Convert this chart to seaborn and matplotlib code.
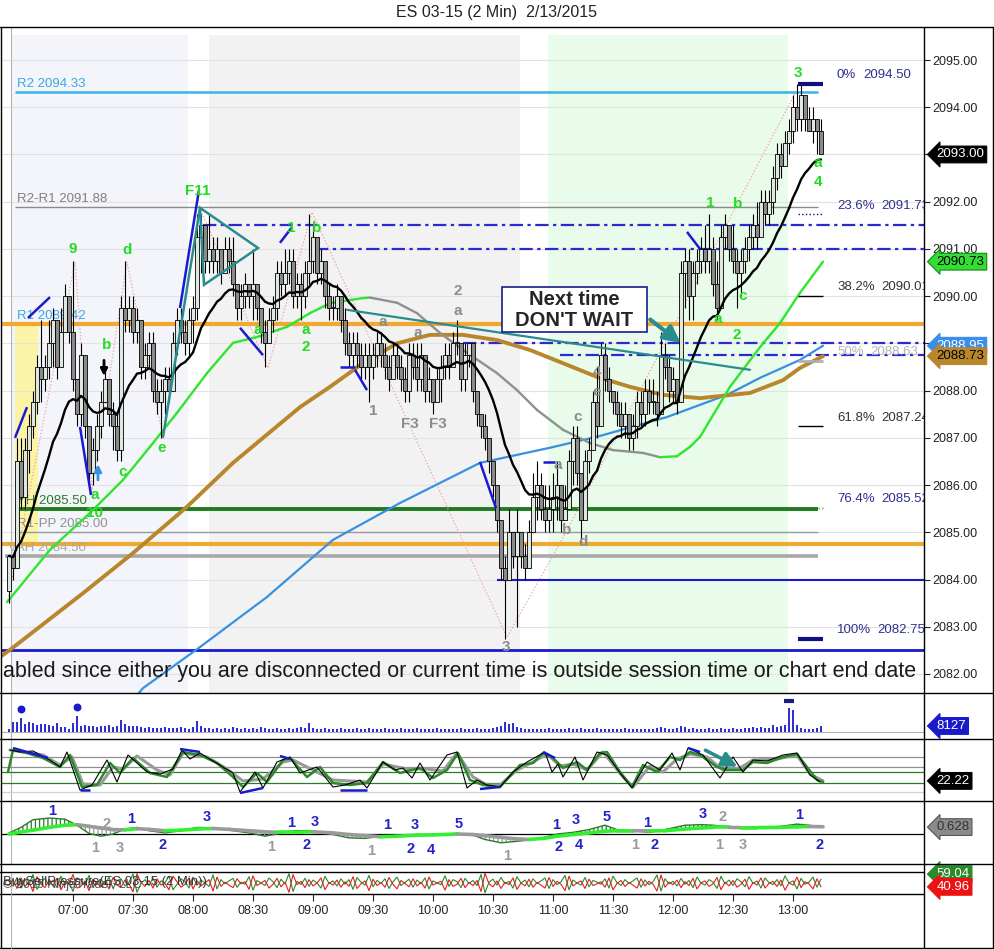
import numpy as np
import pandas as pd
import matplotlib
matplotlib.use('Agg')
import matplotlib.pyplot as plt
import seaborn as sns
from matplotlib.lines import Line2D
from matplotlib.collections import LineCollection
from matplotlib.patches import Rectangle, Polygon
from matplotlib.transforms import blended_transform_factory

sns.set_style('white')
plt.rcParams['font.family'] = ['Liberation Sans', 'DejaVu Sans']
plt.rcParams['hatch.linewidth'] = 0.9

W, H = 995, 950

# ---------------- data ----------------
# time axis = minutes after 07:00, one bar every 2 minutes, first bar 06:28
first_open = 2083.75
closes = [
    2084.50, 2084.25, 2086.50, 2085.75, 2086.75, 2087.25, 2087.75, 2088.50, 2088.25, 2088.50,
    2089.00, 2089.50, 2088.50, 2089.25, 2090.00, 2089.25, 2088.25, 2087.50, 2088.75, 2087.25,
    2086.25, 2086.75, 2087.25, 2087.75, 2088.25, 2087.50, 2087.25, 2086.75, 2089.75, 2089.50,
    2089.75, 2089.25, 2089.50, 2088.50, 2088.75, 2089.00, 2088.00, 2087.75, 2088.00, 2088.25,
    2088.00, 2089.00, 2089.50, 2089.25, 2089.00, 2089.50, 2089.75, 2091.25, 2091.50, 2090.75,
    2091.00, 2090.75, 2091.00, 2090.50, 2091.00, 2090.75, 2090.25, 2089.75, 2090.00, 2090.25,
    2090.00, 2090.25, 2089.75, 2089.25, 2089.00, 2089.50, 2089.75, 2090.50, 2090.25, 2090.50,
    2090.75, 2090.00, 2090.25, 2090.00, 2090.50, 2090.75, 2091.25, 2090.50, 2090.75, 2090.00,
    2089.75, 2089.75, 2090.00, 2089.50, 2089.00, 2088.75, 2089.00, 2088.75, 2088.50, 2088.75,
    2088.50, 2088.75, 2089.00, 2088.75, 2088.50, 2088.25, 2088.75, 2088.50, 2088.25, 2088.00,
    2088.75, 2088.50, 2088.25, 2088.75, 2088.00, 2088.25, 2087.75, 2088.25, 2088.50, 2088.75,
    2088.50, 2089.00, 2089.00, 2088.25, 2088.75, 2089.00, 2088.00, 2087.50, 2087.25, 2087.00,
    2086.50, 2086.00, 2085.25, 2084.25, 2084.00, 2085.00, 2084.50, 2085.00, 2084.50, 2084.25,
    2085.00, 2085.75, 2086.00, 2085.50, 2085.25, 2085.50, 2085.75, 2086.00, 2085.25, 2085.50,
    2086.50, 2087.00, 2086.25, 2085.25, 2086.50, 2086.75, 2087.75, 2087.25, 2088.75, 2088.25,
    2088.00, 2087.75, 2087.50, 2087.25, 2087.50, 2087.00, 2087.25, 2087.75, 2087.50, 2088.00,
    2087.75, 2087.75, 2087.50, 2088.75, 2088.50, 2088.00, 2088.25, 2087.75, 2090.50, 2090.75,
    2090.00, 2090.50, 2090.75, 2091.00, 2090.75, 2091.00, 2090.25, 2089.75, 2091.25, 2091.50,
    2091.00, 2090.75, 2090.50, 2090.75, 2091.00, 2091.25, 2091.50, 2091.25, 2092.00, 2091.75,
    2092.00, 2092.50, 2093.00, 2092.75, 2093.25, 2093.50, 2094.00, 2093.75, 2094.25, 2093.75,
    2093.50, 2093.75, 2093.50, 2093.00]
highs = [
    2084.50, 2084.50, 2087.00, 2087.00, 2087.00, 2087.50, 2088.00, 2088.75, 2089.50, 2088.75,
    2089.50, 2089.75, 2089.50, 2089.75, 2090.25, 2090.00, 2090.75, 2088.25, 2089.00, 2088.75,
    2087.25, 2087.00, 2087.50, 2088.00, 2088.50, 2088.25, 2087.75, 2087.50, 2090.00, 2090.75,
    2090.00, 2090.00, 2089.75, 2089.25, 2089.00, 2089.25, 2089.25, 2088.25, 2088.25, 2088.50,
    2088.50, 2089.25, 2089.75, 2089.75, 2089.50, 2089.75, 2090.00, 2091.75, 2091.75, 2091.50,
    2091.75, 2091.25, 2091.25, 2091.00, 2091.25, 2091.25, 2091.25, 2090.25, 2090.25, 2090.50,
    2090.25, 2091.00, 2090.25, 2089.75, 2089.50, 2089.75, 2090.00, 2090.75, 2090.75, 2091.00,
    2091.00, 2091.00, 2090.50, 2090.50, 2090.75, 2091.75, 2091.50, 2091.25, 2091.00, 2090.75,
    2090.25, 2090.00, 2090.25, 2089.75, 2089.75, 2089.25, 2089.25, 2089.25, 2089.00, 2089.00,
    2089.00, 2089.00, 2089.25, 2089.25, 2089.00, 2088.75, 2089.00, 2089.00, 2088.75, 2088.50,
    2089.00, 2089.00, 2089.00, 2089.00, 2088.50, 2088.50, 2088.25, 2088.50, 2088.75, 2089.00,
    2089.00, 2089.25, 2089.50, 2089.00, 2089.00, 2089.00, 2089.00, 2088.00, 2087.50, 2087.50,
    2087.00, 2086.50, 2086.00, 2085.25, 2084.50, 2085.50, 2085.00, 2085.50, 2085.00, 2084.75,
    2085.25, 2086.25, 2086.50, 2086.25, 2086.00, 2086.00, 2086.25, 2086.50, 2086.00, 2086.00,
    2086.75, 2087.25, 2087.25, 2086.25, 2086.75, 2087.00, 2088.00, 2088.50, 2089.00, 2089.00,
    2088.50, 2088.00, 2088.00, 2087.75, 2087.75, 2087.50, 2087.50, 2088.00, 2088.00, 2088.25,
    2088.25, 2088.25, 2088.00, 2089.25, 2089.00, 2088.75, 2088.50, 2088.25, 2090.75, 2091.00,
    2091.00, 2090.75, 2091.00, 2091.25, 2091.50, 2091.75, 2091.25, 2090.75, 2091.50, 2091.75,
    2091.50, 2091.50, 2091.00, 2091.00, 2091.25, 2091.50, 2091.75, 2092.00, 2092.25, 2092.25,
    2092.25, 2092.75, 2093.25, 2093.25, 2093.50, 2093.75, 2094.25, 2094.50, 2094.50, 2094.25,
    2094.00, 2094.00, 2093.75, 2093.75]
lows = [
    2083.50, 2084.00, 2084.25, 2085.50, 2085.50, 2086.25, 2087.00, 2087.50, 2087.75, 2088.00,
    2088.25, 2088.50, 2088.25, 2088.75, 2089.25, 2089.00, 2088.00, 2087.25, 2087.25, 2087.00,
    2086.00, 2086.00, 2086.50, 2087.00, 2087.75, 2087.25, 2086.75, 2086.50, 2086.50, 2089.25,
    2089.25, 2089.00, 2089.00, 2088.25, 2088.25, 2088.50, 2087.75, 2087.50, 2087.00, 2087.50,
    2087.75, 2088.00, 2088.75, 2089.00, 2088.75, 2088.75, 2089.00, 2089.50, 2090.50, 2090.50,
    2090.50, 2090.50, 2090.50, 2090.25, 2090.50, 2090.50, 2090.00, 2089.50, 2089.50, 2089.75,
    2089.75, 2089.50, 2089.50, 2089.00, 2088.50, 2089.00, 2089.25, 2089.50, 2090.00, 2090.00,
    2090.25, 2089.75, 2089.75, 2089.50, 2089.75, 2090.25, 2090.50, 2090.25, 2090.25, 2089.75,
    2089.50, 2089.50, 2089.50, 2089.25, 2088.75, 2088.50, 2088.50, 2088.50, 2088.25, 2088.25,
    2087.75, 2088.25, 2088.50, 2088.50, 2088.25, 2088.00, 2088.25, 2088.25, 2088.00, 2087.75,
    2087.75, 2088.25, 2088.00, 2088.00, 2087.75, 2087.75, 2087.50, 2087.75, 2087.75, 2088.25,
    2088.25, 2088.50, 2088.75, 2088.00, 2088.00, 2088.50, 2087.75, 2087.25, 2087.00, 2086.75,
    2086.25, 2085.75, 2085.00, 2084.00, 2082.75, 2084.00, 2084.25, 2083.00, 2084.25, 2084.00,
    2084.25, 2085.00, 2085.25, 2085.25, 2085.00, 2085.00, 2085.00, 2085.25, 2085.00, 2085.25,
    2085.50, 2086.00, 2086.00, 2084.75, 2085.25, 2086.25, 2086.75, 2087.00, 2087.25, 2088.00,
    2087.75, 2087.50, 2087.25, 2087.00, 2087.00, 2086.75, 2086.75, 2087.00, 2087.25, 2087.25,
    2087.50, 2087.50, 2087.25, 2087.50, 2088.25, 2087.75, 2087.75, 2087.50, 2087.75, 2089.75,
    2089.50, 2089.50, 2090.25, 2090.50, 2090.50, 2090.50, 2090.00, 2089.50, 2089.75, 2091.00,
    2090.75, 2090.50, 2089.75, 2090.00, 2090.50, 2090.75, 2091.00, 2091.00, 2091.25, 2091.50,
    2091.50, 2091.75, 2092.25, 2092.50, 2092.75, 2093.00, 2093.25, 2093.50, 2093.50, 2093.50,
    2093.50, 2093.25, 2093.00, 2093.00]
volume = [
    4100, 13500, 13500, 18900, 10800, 13500, 12200, 9500, 10800, 10800,
    9500, 8100, 12200, 6800, 6800, 4100, 12200, 21600, 8100, 9500,
    8100, 8100, 6800, 8100, 8100, 9500, 6800, 8100, 16200, 10800,
    8100, 8100, 8100, 6800, 5400, 6800, 5400, 5400, 5400, 6800,
    5400, 5400, 5400, 6800, 5400, 4100, 6800, 14900, 8100, 5400,
    5400, 4100, 5400, 4100, 5400, 4100, 6800, 5400, 4100, 5400,
    4100, 5400, 4100, 6800, 5400, 4100, 4100, 5400, 4100, 4100,
    5400, 4100, 5400, 6800, 5400, 12200, 5400, 4100, 4100, 5400,
    4100, 4100, 4100, 5400, 4100, 4100, 4100, 5400, 4100, 4100,
    5400, 4100, 4100, 4100, 5400, 4100, 4100, 4100, 5400, 4100,
    4100, 4100, 5400, 4100, 4100, 4100, 4100, 5400, 4100, 4100,
    4100, 4100, 4100, 5400, 4100, 4100, 4100, 5400, 4100, 4100,
    4100, 5400, 6800, 8100, 13500, 10800, 12200, 6800, 5400, 4100,
    4100, 4100, 4100, 4100, 4100, 5400, 4100, 4100, 4100, 4100,
    5400, 4100, 4100, 5400, 4100, 4100, 4100, 5400, 4100, 4100,
    4100, 4100, 4100, 4100, 5400, 4100, 4100, 4100, 4100, 4100,
    4100, 4100, 5400, 6800, 5400, 4100, 4100, 5400, 8100, 6800,
    4100, 5400, 4100, 4100, 4100, 5400, 4100, 4100, 5400, 4100,
    4100, 5400, 4100, 4100, 5400, 5400, 6800, 5400, 6800, 5400,
    5400, 9500, 6800, 8100, 9500, 32400, 29700, 9500, 5400, 4100,
    4100, 4100, 5400, 8127]
vol_spikes = [3, 17]
buy_pct = [
    55, 42, 63, 38, 58, 47, 70, 35, 52, 61, 44, 57,
    39, 66, 48, 53, 30, 62, 57, 45, 68, 41, 50, 59,
    46, 64, 37, 55, 60, 43, 52, 71, 28, 49, 58, 44,
    62, 40, 55, 51, 66, 34, 47, 60, 53, 38, 64, 45,
    57, 50, 42, 69, 36, 58, 48, 55, 61, 40, 52, 47,
    65, 33, 56, 50, 44, 62, 53, 39, 59, 48, 72, 30,
    54, 46, 61, 42, 57, 50, 38, 66, 49, 55, 43, 60,
    47, 58, 35, 63, 52, 45, 68, 41, 56, 49, 60, 37,
    53, 64, 44, 51, 59, 40, 57, 48, 62, 36, 55, 50,
    46, 67, 42, 58, 53, 39, 61, 49, 56, 44, 70, 27,
    52, 59, 45, 63, 48, 54, 38, 65, 50, 57, 41, 60,
    49, 55, 62, 37, 58, 46, 53, 68, 34, 57, 50, 45,
    63, 41, 56, 52, 47, 60, 38, 66, 51, 44, 58, 49,
    55, 62, 40, 57, 46, 53, 69, 31, 60, 48, 54, 43,
    61, 47, 56, 39, 64, 50, 45, 58, 52, 37, 66, 48,
    57, 44, 60, 53, 41, 65, 49, 55, 38, 62, 51, 46,
    58, 43, 67, 50, 55, 36, 61, 47, 52, 64, 40, 59.04]

# moving averages (time, price)
ma_slow_t = [-33, -11.5, 8.5, 25, 38.5, 52, 67, 80, 92.5, 107, 118.5, 128.5, 145, 148.5,
             162, 172, 183.5, 195, 212, 222, 232, 245, 258.5, 270, 285, 293.5, 302, 308.5,
             313.5, 328.5, 343.5, 353.5, 363.5, 375]
ma_slow = [2083.52, 2084.63, 2085.41, 2086.11, 2086.81, 2087.53, 2088.37, 2089.01, 2089.14,
           2089.35, 2089.64, 2089.85, 2089.96, 2089.97, 2089.86, 2089.64, 2089.22, 2088.86,
           2088.37, 2088.01, 2087.59, 2087.17, 2086.89, 2086.74, 2086.68, 2086.59, 2086.61,
           2086.81, 2087.02, 2088.08, 2088.92, 2089.43, 2090.07, 2090.73]
ma_brown_t = [-36.5, -31.5, 5, 30, 57, 80, 113.5, 128.5, 145, 162, 178.5, 195, 212, 228.5,
              245, 262, 278.5, 295, 313.5, 338.5, 355, 363.5, 375]
ma_brown = [2082.36, 2082.51, 2083.71, 2084.56, 2085.54, 2086.47, 2087.65, 2088.08, 2088.58,
            2089.00, 2089.18, 2089.18, 2089.07, 2088.86, 2088.58, 2088.29, 2088.08, 2087.91,
            2087.84, 2087.95, 2088.22, 2088.48, 2088.73]
ma_blue_t = [23.5, 35, 63.5, 97, 130, 163.5, 203.5, 238.5, 263.5, 297, 327, 343.5, 363.5, 375]
ma_blue = [2081.13, 2081.70, 2082.57, 2083.63, 2084.84, 2085.62, 2086.47, 2086.79, 2087.04,
           2087.44, 2087.91, 2088.27, 2088.65, 2088.95]

# stochastics (time, value)
stk_black_t = [-31.5, -26.5, -20, -11.5, -6.5, -3, 3.5, 9.5, 17, 22, 27.5, 37, 43.5, 50, 54.5,
               58.5, 63.5, 70, 80, 83.5, 91, 95, 102, 108.5, 113.5, 122, 130, 136, 143.5, 147,
               155, 161, 165, 169.5, 173.5, 178.5, 187, 192, 197, 202, 207, 213.5, 220, 227,
               236, 239.5, 242.5, 245, 251, 255, 262, 267, 273.5, 279.5, 287, 293.5, 299.5,
               303.5, 307.5, 315, 323.5, 330, 335, 340, 347, 355, 362, 368.5, 373.5]
stk_black = [84, 80, 82, 64, 50, 80, 4, 14, 64, 20, 74, 40, 36, 46, 84, 66, 78, 62, 38, 0, 40,
             8, 60, 70, 38, 50, 10, 14, 24, 8, 60, 44, 48, 28, 58, 24, 74, 80, 8, 24, 14, 10,
             40, 60, 80, 40, 56, 30, 70, 24, 80, 74, 38, 8, 60, 44, 78, 44, 88, 74, 28, 70, 40,
             64, 62, 74, 78, 34, 20]
stk_green_t = [-32.5, -30, -23, -15, -6.5, -1.5, 4.5, 12, 18.5, 23.5, 30, 38.5, 47, 55, 63.5,
               72, 80, 85, 92, 97, 105, 108.5, 117, 123.5, 130, 138.5, 147, 155, 163.5, 173.5,
               180, 187, 192.5, 198.5, 205, 213.5, 223.5, 230, 235, 240, 245, 252, 257, 263.5,
               267, 273.5, 279.5, 285, 292, 298.5, 303.5, 308.5, 313.5, 322, 327, 335, 340,
               347, 355, 362, 367, 372, 375]
stk_green = [40, 84, 78, 68, 50, 74, 10, 14, 58, 38, 68, 38, 30, 80, 74, 58, 30, 10, 38, 20,
             64, 68, 30, 50, 18, 14, 18, 60, 38, 48, 28, 44, 78, 24, 14, 10, 54, 58, 78, 68,
             48, 60, 44, 78, 80, 40, 10, 54, 40, 70, 64, 80, 74, 50, 44, 44, 60, 58, 70, 76,
             50, 24, 20]
stk_gray_t = [-31.5, -15, -6.5, -0.5, 5, 13.5, 20, 25, 32, 42, 48.5, 55, 67, 77, 85, 95, 105,
              110, 120, 130, 147, 155, 167, 177, 185, 192, 200, 207, 213.5, 222, 230, 237,
              243.5, 250, 257, 265, 275, 280, 288.5, 295, 302, 308.5, 317, 325, 333.5, 340,
              352, 362, 368.5, 375]
stk_gray = [84, 74, 54, 70, 16, 14, 50, 46, 72, 44, 34, 78, 70, 46, 22, 26, 60, 64, 44, 24,
            20, 56, 46, 46, 42, 78, 30, 14, 14, 44, 60, 76, 52, 56, 44, 80, 30, 10, 52, 40,
            66, 76, 70, 44, 48, 64, 66, 74, 36, 22.22]

# macd / signal on a common time grid
macd_t = [-32, -26, -20, -12, -4, 2, 8, 14, 20, 26, 32, 38, 46, 54, 62, 70, 78, 88, 96, 102,
          110, 120, 130, 138, 146, 154, 162, 172, 180, 192, 200, 206, 214, 220, 228, 236, 242,
          250, 258, 266, 272, 280, 288, 296, 306, 314, 320, 328, 334, 342, 352, 362, 368, 375]
macd = [0.1, 0.6, 1.3, 1.45, 1.35, 0.8, 0.05, -0.2, 0.0, 0.45, 0.6, 0.3, 0.1, 0.3, 0.6, 0.55,
        0.35, 0.1, -0.2, 0.0, 0.3, 0.3, -0.05, -0.35, -0.4, -0.2, -0.15, -0.15, -0.1, 0.05,
        -0.1, -0.5, -0.8, -0.7, -0.55, -0.3, 0.0, 0.15, 0.4, 0.8, 0.4, 0.3, 0.15, 0.4, 0.8,
        0.85, 0.8, 0.65, 0.6, 0.65, 0.65, 0.9, 0.8, 0.628]
signal = [0.0, 0.18, 0.35, 0.6, 0.8, 0.85, 0.7, 0.55, 0.4, 0.38, 0.48, 0.42, 0.3, 0.35, 0.45,
          0.5, 0.42, 0.3, 0.2, 0.15, 0.15, 0.2, 0.1, -0.05, -0.15, -0.25, -0.2, -0.1, -0.08,
          0.0, -0.05, -0.15, -0.3, -0.42, -0.5, -0.38, -0.2, -0.05, 0.1, 0.25, 0.3, 0.3, 0.28,
          0.3, 0.45, 0.55, 0.6, 0.6, 0.58, 0.58, 0.6, 0.65, 0.68, 0.66]

# pivot / reference levels
lvl_names = ['R2 2094.33', 'R2-R1 2091.88', 'R1 2089.42', 'YH 2085.50', 'R1-PP 2085.00', 'VAH 2084.50']
lvl_prices = [2094.33, 2091.88, 2089.42, 2085.50, 2085.00, 2084.50]
fib_pct = ['0%', '23.6%', '38.2%', '50%', '61.8%', '76.4%', '100%']
fib_price = [2094.50, 2091.73, 2090.01, 2088.63, 2087.24, 2085.52, 2082.75]

time_labels = ['07:00', '07:30', '08:00', '08:30', '09:00', '09:30', '10:00',
               '10:30', '11:00', '11:30', '12:00', '12:30', '13:00']

# ---------------- figure ----------------
fig = plt.figure(figsize=(W / 100, H / 100), dpi=100)


def px_axes(x0, y0, x1, y1):
    a = fig.add_axes([x0 / W, 1 - y1 / H, (x1 - x0) / W, (y1 - y0) / H])
    for s in a.spines.values():
        s.set_visible(False)
    a.set_xlim(-36, 425.5)
    a.set_xticks([])
    a.set_yticks([])
    a.axvline(-31, color='#b4b4b4', lw=0.8, zorder=1)
    return a


def fig_line(x0, y0, x1, y1, **kw):
    fig.add_artist(Line2D([x0 / W, x1 / W], [1 - y0 / H, 1 - y1 / H],
                          transform=fig.transFigure, **kw))


def tag(a, yv, text, fc, tc, ec=None):
    tr = blended_transform_factory(a.transAxes, a.transData)
    a.text(1.0135, yv, text, transform=tr, ha='left', va='center', fontsize=9.5, color=tc,
           clip_on=False, zorder=30,
           bbox=dict(boxstyle='larrow,pad=0.18', fc=fc, ec=ec or fc, lw=0.8))


def slope_line(a, xs, ys, up_col, down_col, lw, z):
    p = np.column_stack([xs, ys])
    segs = np.stack([p[:-1], p[1:]], axis=1)
    cols = np.where(np.diff(ys) >= 0, up_col, down_col)
    a.add_collection(LineCollection(segs, colors=cols, lw=lw, zorder=z, capstyle='round'))


ax = px_axes(1, 27, 924, 693)
ymin, ymax = 2081.597, 2095.699
ax.set_ylim(ymin, ymax)

# background zones
for t0, t1, col in [(-30.5, 57.5, '#f3f5fa'), (68, 223.5, '#f2f2f2'), (237.5, 357.5, '#e9fbea')]:
    ax.add_patch(Rectangle((t0, ymin), t1 - t0, 2095.53 - ymin, fc=col, ec='none', zorder=0))
ax.add_patch(Rectangle((-29, 2084.75), 11.5, 4.67, fc='#fbf3a6', ec='none', zorder=0.5))

for p in range(2082, 2096):
    ax.axhline(p, color='#e2e2e2', lw=0.8, zorder=0.6)

# pivot lines
ax.hlines(lvl_prices[0], -29, 372.5, color='#3ab4e6', lw=1.8, zorder=2)
ax.hlines(lvl_prices[1], -29, 372.5, color='#8a8a8a', lw=1.0, zorder=2)
ax.axhline(lvl_prices[2], color='#f0a830', lw=3, zorder=2)
ax.hlines(lvl_prices[3], -29, 372.5, color='#1e7b1e', lw=2.8, zorder=2)
ax.hlines(lvl_prices[4], -29, 372.5, color='#9a9a9a', lw=1.0, zorder=2)
ax.axhline(2084.75, color='#f0a830', lw=3, zorder=2)
ax.hlines(lvl_prices[5], -34, 372.5, color='#a8a8a8', lw=2.6, zorder=2)
ax.hlines(2084.0, 212, 425.5, color='#1a1acc', lw=1.5, zorder=2)
ax.axhline(2082.5, color='#1a1acc', lw=2, zorder=2)
dd = (0, (6, 2, 1.5, 2))
for p, t0 in [(2091.5, 65), (2091.0, 121), (2089.0, 195), (2088.75, 243.5)]:
    ax.hlines(p, t0, 425.5, color='#2a2ad0', lw=1.6, linestyles=[dd], zorder=2)

lbl_cols = ['#3aa8e0', '#808080', '#3aa8e0', '#2a7a2a', '#909090', '#a8a8a8']
for name, p, col in zip(lvl_names, lvl_prices, lbl_cols):
    x0 = -32.5 if name.startswith('VAH') else -28
    ax.text(x0, p + 0.04, name, color=col, fontsize=9.5, va='bottom', ha='left', zorder=3)

# fib ladder
fib_val_x = [395, 404, 404, 398.5, 404, 404, 402]
fib_cols = ['#303090', '#303090', '#333333', '#b4b4b4', '#333333', '#303090', '#303090']
for pct, p, vx, col in zip(fib_pct, fib_price, fib_val_x, fib_cols):
    ax.text(382, p + 0.05, pct, color=col, fontsize=9.5, va='bottom', ha='left', clip_on=True)
    ax.text(vx, p + 0.05, f'{p:.2f}', color=col, fontsize=9.5, va='bottom', ha='left', clip_on=True)
ax.hlines([fib_price[0], fib_price[6]], 362.5, 375, color='#101080', lw=3, zorder=8)
ax.hlines(fib_price[1], 362.5, 375, color='#101080', lw=1, linestyles=':', zorder=8)
ax.hlines([fib_price[2], fib_price[4]], 362.5, 375, color='black', lw=1, zorder=8)
ax.hlines(fib_price[3], 362.5, 375, color='#b0b0b0', lw=2, zorder=8)
ax.hlines(fib_price[5], 372.5, 375, color='#808080', lw=1, linestyles=':', zorder=8)

# zigzag
zz_t = [-32.5, 1, 9.5, 27, 45, 63.5, 97.5, 119.5, 167, 217, 246.5, 363.5]
zz_p = [2083.57, 2090.72, 2085.9, 2090.72, 2087.02, 2091.87, 2088.48, 2091.78, 2087.38,
        2082.78, 2085.0, 2094.5]
ax.plot(zz_t, zz_p, color='#eea0a0', lw=0.9, ls=':', zorder=3)

# moving averages
t = np.arange(len(closes)) * 2 - 32
c = np.array(closes)
o = np.r_[first_open, c[:-1]]
hi = np.maximum(np.array(highs), np.maximum(o, c))
lo = np.minimum(np.array(lows), np.minimum(o, c))

sns.lineplot(x=ma_blue_t, y=ma_blue, ax=ax, color='#3a90e0', lw=1.6, sort=False,
             estimator=None, zorder=3)
sns.lineplot(x=ma_brown_t, y=ma_brown, ax=ax, color='#b8862b', lw=2.8, sort=False,
             estimator=None, zorder=3)
slope_line(ax, ma_slow_t, np.array(ma_slow), '#2ee62e', '#909090', 1.7, 4)

ema_fast = pd.Series(c).ewm(span=18, adjust=False).mean().to_numpy()
sns.lineplot(x=t, y=ema_fast, ax=ax, color='black', lw=1.7, sort=False, estimator=None, zorder=7)

# candles
ax.vlines(t, lo, hi, color='black', lw=0.8, zorder=5)
body = np.maximum(np.abs(c - o), 0.03)
ax.bar(t, body, bottom=np.minimum(o, c), width=1.6,
       color=np.where(c >= o, '#dfe8df', '#8a8a8a'), edgecolor='black', lw=0.6, zorder=6)

# teal drawings
teal = '#2a8c8c'
ax.plot([45, 63.5], [2087.02, 2091.87], color=teal, lw=1.8, zorder=8)
ax.add_patch(Polygon([(63.5, 2091.87), (92.5, 2091.02), (65.5, 2090.24)], closed=True,
                     fill=False, ec=teal, lw=1.8, zorder=8))
ax.plot([137, 338.5], [2089.71, 2088.44], color=teal, lw=1.6, zorder=8)
ax.annotate('', xy=(305, 2088.97), xytext=(287.5, 2089.54),
            arrowprops=dict(arrowstyle='-|>,head_length=1.0,head_width=0.5', color=teal, lw=3),
            zorder=9)

# blue swing markers
blue_segs = [((-22.5, 2089.54), (-11.5, 2089.98)), ((-29, 2087.0), (-23, 2087.65)),
             ((3.5, 2087.23), (9, 2085.79)), ((53.5, 2089.75), (63, 2092.25)),
             ((83.5, 2089.33), (95, 2088.75)), ((103.5, 2091.13), (109.5, 2091.46)),
             ((133.5, 2088.5), (141, 2088.5)), ((141, 2088.44), (147, 2088.01)),
             ((203.5, 2086.49), (211.5, 2085.51)), ((235, 2086.49), (241, 2086.49)),
             ((307, 2091.36), (313.5, 2091.0))]
ax.add_collection(LineCollection(blue_segs, colors='#1a1ad0', lw=1.8, zorder=9))
ax.annotate('', xy=(15.5, 2088.25), xytext=(15.5, 2088.7),
            arrowprops=dict(arrowstyle='-|>', color='black', lw=2), zorder=9)
ax.annotate('', xy=(12.5, 2086.5), xytext=(12.5, 2086.05),
            arrowprops=dict(arrowstyle='-|>', color='#3a90e0', lw=2), zorder=9)

# wave labels
green_labels = [(0, 2091.0, '9'), (27, 2090.98, 'd'), (62.5, 2092.23, 'F11'), (17, 2088.97, 'b'),
                (11, 2085.8, 'a'), (11, 2085.41, '10'), (25, 2086.28, 'c'), (44.5, 2086.79, 'e'),
                (109, 2091.44, '1'), (122, 2091.44, 'b'), (92.5, 2089.28, 'a'),
                (116.5, 2089.28, 'a'), (116.5, 2088.92, '2'), (362.5, 2094.72, '3'),
                (372.5, 2092.82, 'a'), (372.5, 2092.42, '4'), (318.5, 2091.97, '1'),
                (332.5, 2091.95, 'b'), (335, 2090.0, 'c'), (322.5, 2089.52, 'a'),
                (332, 2089.18, '2')]
gray_labels = [(192.5, 2090.11, '2'), (192.5, 2089.69, 'a'), (155, 2089.45, 'a'),
               (172.5, 2089.22, 'a'), (150, 2087.57, '1'), (168.5, 2087.29, 'F3'),
               (182.5, 2087.29, 'F3'), (216.5, 2082.57, '3'), (252.5, 2087.44, 'c'),
               (262, 2087.97, 'e'), (262, 2088.39, '4'), (242.5, 2086.42, 'a'),
               (247, 2085.05, 'b'), (255, 2084.8, 'd')]
for x, y, s in green_labels:
    ax.text(x, y, s, color='#22dd22', fontsize=11, fontweight='bold', ha='center', va='center', zorder=10)
for x, y, s in gray_labels:
    ax.text(x, y, s, color='#8c8c8c', fontsize=11, fontweight='bold', ha='center', va='center', zorder=10)

# note box
ax.add_patch(Rectangle((214.5, 2089.24), 72.5, 0.95, fc='white', ec='#1a1a8a', lw=1.2, zorder=12))
ax.text(250.75, 2089.71, "Next time\nDON'T WAIT", ha='center', va='center', fontsize=14.5,
        fontweight='bold', linespacing=1.1, zorder=13)

ax.text(-35, 2082.06, 'abled since either you are disconnected or current time is outside '
        'session time or chart end date', fontsize=15.5, color='#1a1a1a', ha='left', va='center',
        zorder=12, clip_on=True)

ax.yaxis.tick_right()
ax.set_yticks(range(2082, 2096))
ax.set_yticklabels([f'{v:.2f}' for v in range(2082, 2096)])
ax.tick_params(axis='y', length=4, width=0.8, pad=2, labelsize=9, colors='#222222', right=True)

tag(ax, closes[-1], f'{closes[-1]:.2f}', 'black', 'white')
tag(ax, ma_slow[-1], f'{ma_slow[-1]:.2f}', '#33dd33', 'black', '#118811')
tag(ax, ma_blue[-1], f'{ma_blue[-1]:.2f}', '#3a8ee8', 'white')
tag(ax, ma_brown[-1], f'{ma_brown[-1]:.2f}', '#b8862b', 'black')

# ---------------- volume ----------------
axv = px_axes(1, 693, 924, 739)
axv.set_ylim(-9450, 52650)
axv.axhline(0, color='#b0b0b0', lw=0.8)
axv.vlines(t, 0, volume, color='#1a1acc', lw=1.3)
axv.scatter([t[i] for i in vol_spikes], [volume[i] + 12000 for i in vol_spikes], s=22,
            color='#1a1acc', zorder=5)
axv.scatter([t[195]], [volume[195] + 9000], marker='_', s=60, color='#1a1a8a', lw=3)
tag(axv, volume[-1], f'{volume[-1]}', '#1a1acc', 'white')

# ---------------- stochastics ----------------
axs = px_axes(1, 739, 924, 801)
axs.set_ylim(-18, 106)
for lv, col in [(70, '#909090'), (50, '#909090'), (40, '#2a7a2a'), (18, '#2a7a2a'), (0, '#d0d0d0')]:
    axs.axhline(lv, color=col, lw=0.9, zorder=1)
sns.lineplot(x=stk_gray_t, y=stk_gray, ax=axs, color='#9a9a9a', lw=2.2, sort=False, estimator=None)
sns.lineplot(x=stk_green_t, y=stk_green, ax=axs, color='#2a8a2a', lw=1.8, sort=False, estimator=None)
sns.lineplot(x=stk_black_t, y=stk_black, ax=axs, color='black', lw=0.8, sort=False, estimator=None)
stoch_marks = [((-30, 88), (-12.5, 68)), ((3.5, 4), (8.5, 4)), ((53.5, 86), (63.5, 80)),
               ((83.5, -2), (95, 8)), ((103.5, 72), (108.5, 66)), ((133.5, 4), (147, 4)),
               ((203.5, 6), (213.5, 10)), ((235, 80), (241, 68)), ((307.5, 88), (313.5, 80))]
axs.add_collection(LineCollection(stoch_marks, colors='#1a1ad0', lw=1.8, zorder=5))
axs.annotate('', xy=(333.5, 48), xytext=(315, 86),
             arrowprops=dict(arrowstyle='-|>,head_length=0.9,head_width=0.45', color=teal, lw=2.6))
tag(axs, stk_gray[-1], f'{stk_gray[-1]:.2f}', 'black', 'white')

# ---------------- macd ----------------
axm = px_axes(1, 801, 924, 864)
axm.set_ylim(-2.727, 3.0)
axm.axhline(0, color='black', lw=0.9, zorder=1)
mac = np.array(macd)
sig = np.array(signal)
axm.fill_between(macd_t, mac, sig, where=mac >= sig, interpolate=True, facecolor='none',
                 hatch='||||', edgecolor='#2a7a2a', lw=0)
axm.fill_between(macd_t, mac, sig, where=mac < sig, interpolate=True, facecolor='none',
                 hatch='||||', edgecolor='#9a9a9a', lw=0)
sns.lineplot(x=macd_t, y=macd, ax=axm, color='#2a7a2a', lw=1.0, sort=False, estimator=None)
slope_line(axm, macd_t, sig, '#33ee33', '#9a9a9a', 2.6, 3)
macd_labels = [(-10.5, 2.09, '1', 'b'), (17, 0.91, '2', 'g'), (11, -1.27, '1', 'g'),
               (23.5, -1.27, '3', 'g'), (29, 1.36, '1', 'b'), (67, 1.55, '3', 'b'),
               (45, -1.0, '2', 'b'), (99, -1.18, '1', 'g'), (109, 1.0, '1', 'b'),
               (121, 1.09, '3', 'b'), (117, -1.0, '2', 'b'), (149, -1.55, '1', 'g'),
               (157, 0.82, '1', 'b'), (171, 0.82, '3', 'b'), (169, -1.36, '2', 'b'),
               (179, -1.45, '4', 'b'), (193, 0.91, '5', 'b'), (217, -2.0, '1', 'g'),
               (241.5, 0.82, '1', 'b'), (251.5, 1.27, '3', 'b'), (243, -1.18, '2', 'b'),
               (253, -1.0, '4', 'b'), (267, 1.55, '5', 'b'), (287, 1.0, '1', 'b'),
               (281, -1.0, '1', 'g'), (291, -1.0, '2', 'b'), (315, 1.82, '3', 'b'),
               (325, 1.55, '2', 'g'), (323, -1.0, '1', 'g'), (335, -1.0, '3', 'g'),
               (363, 1.73, '1', 'b'), (373.5, -1.0, '2', 'b')]
for x, y, s, k in macd_labels:
    axm.text(x, y, s, color='#2222cc' if k == 'b' else '#9a9a9a', fontsize=10.5,
             fontweight='bold', ha='center', va='center', zorder=6)
tag(axm, macd[-1], f'{macd[-1]:.3f}', '#8a8a8a', '#333333', '#555555')

# ---------------- buy / sell pressure ----------------
axb = px_axes(1, 872, 924, 894)
axb.set_ylim(24, 76)
buy = np.array(buy_pct, dtype=float)
sns.lineplot(x=t, y=buy, ax=axb, color='#2a8a2a', lw=0.8, sort=False, estimator=None)
sns.lineplot(x=t, y=100 - buy, ax=axb, color='#e02020', lw=0.8, sort=False, estimator=None)
axb.text(0.002, 0.40, '\u00a9 2015 NinjaTrader, LLC', transform=axb.transAxes, fontsize=9,
         color='#555555', va='center', ha='left')
axb.text(0.002, 0.55, 'BuySellPressure(ES 03-15 (2 Min))', transform=axb.transAxes,
         fontsize=9.4, color='#333333', va='center', ha='left')
tag(axb, buy[-1] + 12, f'{buy[-1]:.2f}', '#2a8a2a', 'white')
tag(axb, 100 - buy[-1], f'{100 - buy[-1]:.2f}', '#ee1111', 'white')
axb.set_xticks(range(0, 361, 30))
axb.set_xticklabels(time_labels)
axb.tick_params(axis='x', length=5, width=0.8, pad=3, labelsize=9, colors='#222222', bottom=True)

# ---------------- frame ----------------
fig.text(497 / W, 1 - 13 / H, 'ES 03-15 (2 Min)  2/13/2015', ha='center', va='center',
         fontsize=11.5, color='#222222')
k = dict(color='black', lw=1.0)
fig_line(0, 27, 993, 27, **k)
fig_line(0.5, 27, 0.5, 948, **k)
fig_line(993, 27, 993, 948, **k)
fig_line(0, 948, 993, 948, **k)
fig_line(924, 27, 924, 948, **k)
for yy in (693, 739, 801, 864):
    fig_line(0, yy, 993, yy, **k)
for yy in (872, 894):
    fig_line(0, yy, 924, yy, **k)
fig_line(11, 894, 11, 948, color='#b4b4b4', lw=0.8)

fig.savefig('out.png', dpi=100)
